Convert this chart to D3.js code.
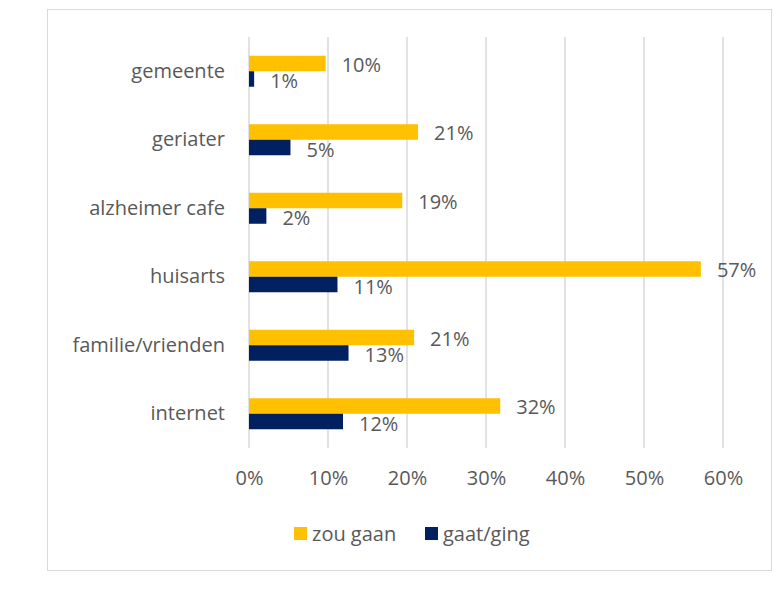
<!DOCTYPE html>
<html>
<head>
<meta charset="utf-8">
<script src="https://cdn.jsdelivr.net/npm/d3@7"></script>
<style>
  body { margin: 0; background: #fff; }
  text { font-family: "Open Sans", sans-serif; fill: #595959; }
</style>
</head>
<body>
<div id="chart"></div>
<script>
const categories = ["gemeente", "geriater", "alzheimer cafe", "huisarts", "familie/vrienden", "internet"];
const zouGaan = [9.7, 21.4, 19.4, 57.2, 20.9, 31.8];
const gaatGing = [0.65, 5.25, 2.2, 11.2, 12.6, 11.9];
const seriesNames = ["zou gaan", "gaat/ging"];
const xTicks = [0, 10, 20, 30, 40, 50, 60];

const colors = ["#FFC000", "#002060"];
const width = 774, height = 596;
const plot = { left: 249, right: 723, top: 37, bottom: 448 };
const fs = "20px";

const svg = d3.select("#chart").append("svg")
    .attr("width", width)
    .attr("height", height);

svg.append("rect")
    .attr("x", 47.5).attr("y", 9.5)
    .attr("width", 724).attr("height", 561)
    .attr("fill", "#fff")
    .attr("stroke", "#d9d9d9");

const x = d3.scaleLinear().domain([0, 60]).range([plot.left, plot.right]);
const y = d3.scaleBand().domain(categories).range([plot.top, plot.bottom]);
const inner = d3.scaleBand().domain(seriesNames).range([y.bandwidth() / 2 - 15.5, y.bandwidth() / 2 + 15.5]);

// gridlines
svg.append("g")
    .selectAll("line")
    .data(xTicks)
    .join("line")
    .attr("x1", d => x(d)).attr("x2", d => x(d))
    .attr("y1", plot.top).attr("y2", plot.bottom)
    .attr("stroke", "#d9d9d9")
    .attr("stroke-width", 1.5);

// x axis labels
const xAxis = svg.append("g")
    .attr("transform", `translate(0,${plot.bottom})`)
    .call(d3.axisBottom(x).tickValues(xTicks).tickFormat(d => d + "%").tickSize(0).tickPadding(23));
xAxis.select(".domain").remove();
xAxis.selectAll("text").style("font-size", fs).attr("fill", "#595959");

// category labels
const yAxis = svg.append("g")
    .attr("transform", `translate(${plot.left},0)`)
    .call(d3.axisLeft(y).tickSize(0).tickPadding(24));
yAxis.select(".domain").remove();
yAxis.selectAll("text").style("font-size", fs).attr("fill", "#595959");

const rows = categories.map((c, i) => ({ cat: c, vals: [zouGaan[i], gaatGing[i]] }));

const groups = svg.append("g")
    .selectAll("g")
    .data(rows)
    .join("g")
    .attr("transform", d => `translate(0,${y(d.cat)})`);

groups.selectAll("rect")
    .data(d => d.vals.map((v, k) => ({ name: seriesNames[k], v: v, k: k })))
    .join("rect")
    .attr("x", x(0))
    .attr("y", d => inner(d.name))
    .attr("width", d => x(d.v) - x(0))
    .attr("height", inner.bandwidth())
    .attr("fill", d => colors[d.k]);

groups.selectAll("text.lbl")
    .data(d => d.vals.map((v, k) => ({ name: seriesNames[k], v: v, k: k })))
    .join("text")
    .attr("class", "lbl")
    .attr("x", d => x(d.v) + 16)
    .attr("y", d => inner(d.name) + inner.bandwidth() / 2 + (d.k === 0 ? 1 : 2))
    .attr("dy", "0.35em")
    .style("font-size", fs)
    .text(d => Math.round(d.v) + "%");

// legend
const legendItems = [{ name: "zou gaan", x: 294 }, { name: "gaat/ging", x: 425 }];
const legend = svg.append("g").selectAll("g")
    .data(legendItems)
    .join("g")
    .attr("transform", d => `translate(${d.x},527)`);
legend.append("rect")
    .attr("width", 13).attr("height", 13)
    .attr("fill", (d, i) => colors[i]);
legend.append("text")
    .attr("x", 18).attr("y", 7)
    .attr("dy", "0.35em")
    .style("font-size", fs)
    .text(d => d.name);
</script>
</body>
</html>
